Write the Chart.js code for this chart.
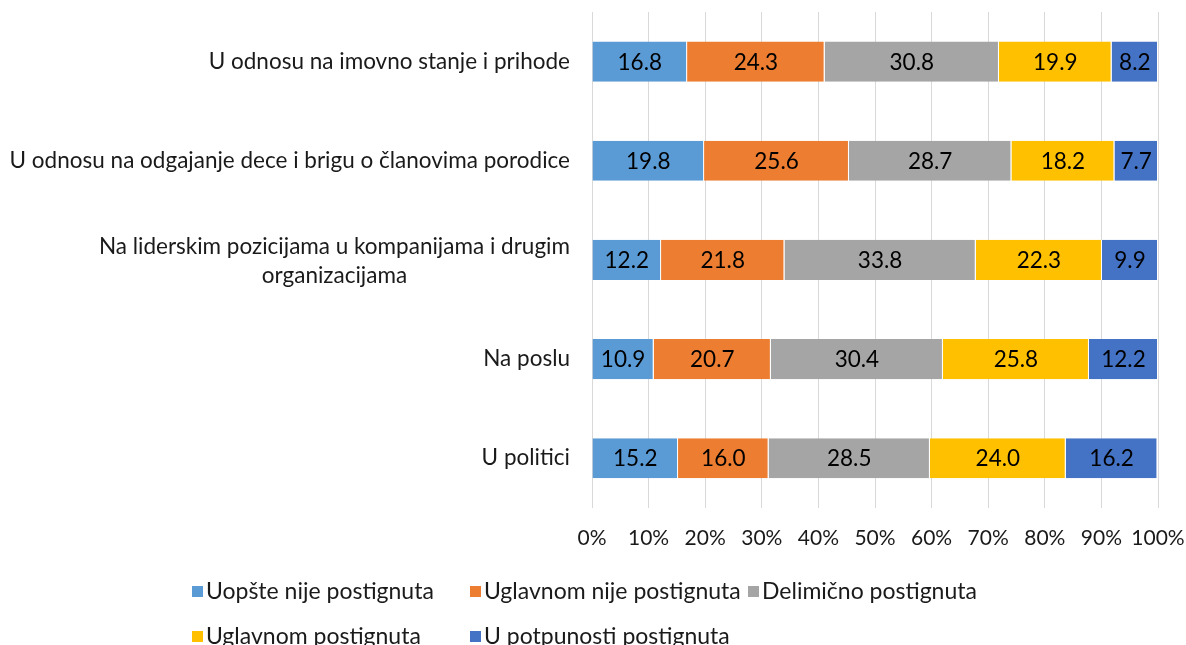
<!DOCTYPE html>
<html>
<head>
<meta charset="utf-8">
<script src="https://cdn.jsdelivr.net/npm/chart.js@4.4.1/dist/chart.umd.min.js"></script>
<style>
html,body{margin:0;padding:0;background:#fff;}
#wrap{width:1186px;height:645px;position:relative;overflow:hidden;}
</style>
</head>
<body>
<div id="wrap"><canvas id="c" width="1186" height="645"></canvas></div>
<script>
const categories = [
  ["U odnosu na imovno stanje i prihode"],
  ["U odnosu na odgajanje dece i brigu o članovima porodice"],
  ["Na liderskim pozicijama u kompanijama i drugim", "organizacijama"],
  ["Na poslu"],
  ["U politici"]
];
const seriesNames = ["Uopšte nije postignuta","Uglavnom nije postignuta","Delimično postignuta","Uglavnom postignuta","U potpunosti postignuta"];
const uopsteNije   = [16.8, 19.8, 12.2, 10.9, 15.2];
const uglavnomNije = [24.3, 25.6, 21.8, 20.7, 16.0];
const delimicno    = [30.8, 28.7, 33.8, 30.4, 28.5];
const uglavnom     = [19.9, 18.2, 22.3, 25.8, 24.0];
const uPotpunosti  = [8.2, 7.7, 9.9, 12.2, 16.2];
const xTicks = [0,10,20,30,40,50,60,70,80,90,100];
const colors = ["#5B9BD5","#ED7D31","#A5A5A5","#FFC000","#4472C4"];

const FONT = "Lato, 'Open Sans', sans-serif";
const FS = 22.5;
const TFS = 21;
const LFS = 23;

const seriesValues = [uopsteNije, uglavnomNije, delimicno, uglavnom, uPotpunosti];

const labelPlugin = {
  id: 'custom',
  afterDraw(chart) {
    const ctx = chart.ctx;
    const y = chart.scales.y;
    ctx.save();
    ctx.font = FS + "px " + FONT;
    ctx.fillStyle = "#1a1a1a";
    ctx.textBaseline = "middle";
    const rightX = 570;
    categories.forEach((lines, i) => {
      const cy = y.getPixelForValue(i);
      const lh = 29;
      if (lines.length === 1) {
        ctx.textAlign = "right";
        ctx.fillText(lines[0], rightX, cy);
      } else {
        const maxW = Math.max(...lines.map(l => ctx.measureText(l).width));
        const cx = rightX - maxW / 2;
        ctx.textAlign = "center";
        lines.forEach((l, k) => ctx.fillText(l, cx, cy - 13 + k * lh));
      }
    });
    ctx.fillStyle = "#000";
    ctx.textAlign = "center";
    chart.data.datasets.forEach((ds, di) => {
      const meta = chart.getDatasetMeta(di);
      meta.data.forEach((el, i) => {
        const cx = (el.x + el.base) / 2;
        ctx.fillText(ds.data[i].toFixed(1), cx, el.y + 1);
      });
    });
    ctx.font = LFS + "px " + FONT;
    ctx.textAlign = "left";
    const cols = [192, 470, 748];
    const rows = [592, 637];
    chart.data.datasets.forEach((ds, di) => {
      const col = di < 3 ? di : di - 3;
      const row = di < 3 ? 0 : 1;
      const lx = cols[col], ly = rows[row];
      ctx.fillStyle = ds.backgroundColor;
      ctx.fillRect(lx, ly - 6, 11, 11);
      ctx.fillStyle = "#1a1a1a";
      ctx.fillText(ds.label, lx + 14, ly);
    });
    ctx.restore();
  }
};

new Chart(document.getElementById('c'), {
  type: 'bar',
  data: {
    labels: categories.map(c => c.join(" ")),
    datasets: seriesNames.map((n, i) => ({
      label: n,
      data: seriesValues[i],
      backgroundColor: colors[i],
      borderColor: "#ffffff",
      borderWidth: {left:0, right:1, top:0, bottom:0},
      borderSkipped: false,
      categoryPercentage: 1,
      barPercentage: 0.405
    }))
  },
  options: {
    indexAxis: 'y',
    responsive: false,
    animation: false,
    devicePixelRatio: 1,
    layout: { padding: { left: 592, right: 28, top: 12, bottom: 76 } },
    plugins: { legend: { display: false }, tooltip: { enabled: false } },
    scales: {
      x: {
        stacked: true,
        min: 0, max: 100,
        afterBuildTicks: (s) => { s.ticks = xTicks.map(v => ({value: v})); },
        afterFit: (s) => { s.paddingLeft = 0; s.paddingRight = 0; },
        ticks: {
          callback: v => v + "%",
          font: { family: FONT, size: TFS },
          color: "#1a1a1a",
          padding: 18,
          autoSkip: false,
          maxRotation: 0,
          minRotation: 0
        },
        grid: { color: "#D9D9D9", lineWidth: 1, drawTicks: false },
        border: { display: false }
      },
      y: {
        stacked: true,
        display: false,
        grid: { display: false }
      }
    }
  },
  plugins: [labelPlugin]
});
</script>
</body>
</html>
